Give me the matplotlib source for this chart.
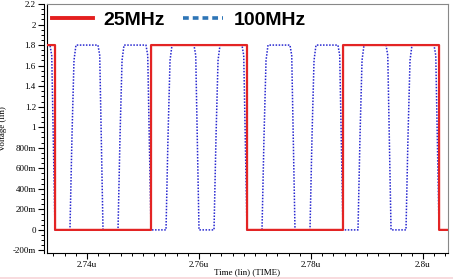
import matplotlib
matplotlib.use("Agg")
import matplotlib.pyplot as plt
from matplotlib.lines import Line2D
from matplotlib.ticker import MultipleLocator, FixedLocator

# --- data (time in us, voltage in V) ---
x_start, x_end = 2.73286, 2.80446

# 25MHz clock: times where the level switches, and the level after the switch
red_edges = [2.73429, 2.75143, 2.76857, 2.78571, 2.80286]
red_levels_after = [0.0, 1.8, 0.0, 1.8, 0.0]
red_initial = 1.8

# 100MHz clock: rising edge start / falling edge end of each pulse
blue_rise_start = [2.72839, 2.73696, 2.74554, 2.75411, 2.76268, 2.77125, 2.77982, 2.78839, 2.79696]
blue_fall_end = [2.73429, 2.74286, 2.75143, 2.76000, 2.76857, 2.77714, 2.78571, 2.79429, 2.80286]
rise_time = 0.00107
fall_time = 0.00090
# edge shape (fraction of the edge, voltage)
rise_frac = [0.0, 0.33, 0.67, 1.0]
rise_volt = [0.0, 0.9, 1.65, 1.8]
fall_frac = [0.0, 0.35, 1.0]
fall_volt = [1.8, 1.7, 0.0]

y_ticks = [-0.2, 0, 0.2, 0.4, 0.6, 0.8, 1, 1.2, 1.4, 1.6, 1.8, 2, 2.2]
y_ticklabels = ["-200m", "0", "200m", "400m", "600m", "800m", "1", "1.2", "1.4", "1.6", "1.8", "2", "2.2"]
x_ticks = [2.74, 2.76, 2.78, 2.80]
x_ticklabels = ["2.74u", "2.76u", "2.78u", "2.8u"]

legend_labels = ["25MHz", "100MHz"]

# --- build the traces ---
red_t = [x_start]
red_v = [red_initial]
level = red_initial
for t, nv in zip(red_edges, red_levels_after):
    red_t += [t, t + 0.00001]
    red_v += [level, nv]
    level = nv
red_t.append(x_end)
red_v.append(level)

blue_t, blue_v = [], []
for r, f in zip(blue_rise_start, blue_fall_end):
    for fr, v in zip(rise_frac, rise_volt):
        blue_t.append(r + fr * rise_time)
        blue_v.append(v)
    for fr, v in zip(fall_frac, fall_volt):
        blue_t.append(f - fall_time + fr * fall_time)
        blue_v.append(v)
blue_t.append(x_end)
blue_v.append(0.0)

# --- plot ---
fig = plt.figure(figsize=(4.53, 2.79), dpi=100)
ax = fig.add_axes([47 / 453, 1 - 253 / 279, 401 / 453, 249 / 279])

# spine moved first: set_position resets the ticks
ax.spines["left"].set_position(("outward", 2.5))
ax.spines["top"].set_color("#888888")
ax.spines["right"].set_color("#888888")
ax.plot([0, 0], [0, 1], transform=ax.transAxes, color="black", lw=0.8, clip_on=False)

ax.plot(blue_t, blue_v, color="#2626d0", lw=1.1, linestyle=(0, (1, 1)), zorder=2)
ax.plot(red_t, red_v, color="#e32424", lw=1.6, zorder=3)

ax.set_xlim(x_start, x_end)
ax.set_ylim(-0.225, 2.2)

serif = "Liberation Serif"
ax.yaxis.set_major_locator(FixedLocator(y_ticks))
ax.set_yticklabels(y_ticklabels, fontsize=6.5, family=serif)
ax.yaxis.set_minor_locator(MultipleLocator(0.05))
ax.xaxis.set_major_locator(FixedLocator(x_ticks))
ax.set_xticklabels(x_ticklabels, fontsize=6.5, family=serif)
ax.xaxis.set_minor_locator(MultipleLocator(0.002))
ax.tick_params(which="major", length=4, width=0.8, pad=1.5)
ax.tick_params(which="minor", length=2.5, width=0.7)

ax.set_ylabel("Voltage (lin)", fontsize=6.5, family=serif, labelpad=4)
ax.set_xlabel("Time (lin) (TIME)", fontsize=6.5, family=serif, labelpad=0)

handles = [Line2D([], [], color="#e41f1f", lw=2.8),
           Line2D([], [], color="#2e75b6", lw=2.6, linestyle=(0, (1.6, 1.1)))]
fig.legend(handles, legend_labels, loc="upper left", bbox_to_anchor=(52 / 453, 1 - 11 / 279),
           ncol=2, frameon=False, borderpad=0, borderaxespad=0,
           handlelength=2.1, handletextpad=0.55, columnspacing=0.9,
           prop={"family": "Liberation Sans", "weight": "bold", "size": 14})

fig.add_artist(Line2D([0, 1], [1.5 / 279, 1.5 / 279], color="#f7d4d8", lw=1.2))

fig.savefig("out.png", dpi=100)
